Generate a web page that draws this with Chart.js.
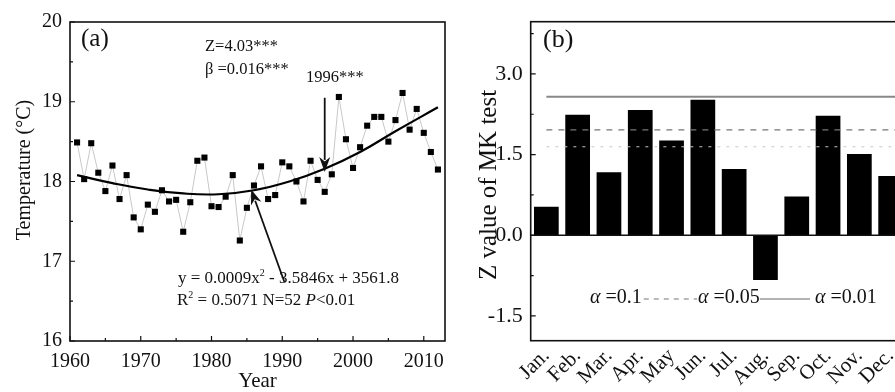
<!DOCTYPE html>
<html><head><meta charset="utf-8">
<script src="https://cdn.jsdelivr.net/npm/chart.js@4.4.1/dist/chart.umd.min.js"></script>
<style>
html,body{margin:0;padding:0;background:#fff;overflow:hidden;width:895px;height:392px;}
#wrap{position:relative;width:895px;height:392px;overflow:hidden;background:#fff;}
#ca{position:absolute;left:0;top:0;}
#cb{position:absolute;left:470px;top:0;}
</style></head><body>
<div id="wrap"><canvas id="ca" width="470" height="392"></canvas><canvas id="cb" width="445" height="392"></canvas></div>
<script>
// ---------- data: panel (a) ----------
const years = [1961,1962,1963,1964,1965,1966,1967,1968,1969,1970,1971,1972,1973,1974,1975,1976,1977,1978,1979,1980,
  1981,1982,1983,1984,1985,1986,1987,1988,1989,1990,1991,1992,1993,1994,1995,1996,1997,1998,1999,2000,
  2001,2002,2003,2004,2005,2006,2007,2008,2009,2010,2011,2012];
const temps = [18.49,18.03,18.48,18.11,17.88,18.20,17.78,18.08,17.55,17.40,17.71,17.62,17.89,17.75,17.77,17.37,17.74,18.26,18.30,17.69,
  17.68,17.81,18.08,17.26,17.67,17.95,18.19,17.78,17.83,18.24,18.19,18.00,17.75,18.26,18.02,17.87,18.09,19.06,18.53,18.17,
  18.43,18.70,18.81,18.81,18.50,18.77,19.11,18.65,18.91,18.61,18.37,18.15];
const fitYears = [1961,1966,1971,1976,1981,1986,1991,1996,2001,2006,2012];
const fitTemps = [18.08,17.98,17.90,17.85,17.84,17.89,18.00,18.16,18.37,18.63,18.93];
const yTicksA = [16,17,18,19,20];
const yMinorA = [16.5,17.5,18.5,19.5];
const xTicksA = [1960,1970,1980,1990,2000,2010];
const xMinorA = [1965,1975,1985,1995,2005];
// ---------- data: panel (b) ----------
const months = ['Jan.','Feb.','Mar.','Apr.','May','Jun.','Jul.','Aug.','Sep.','Oct.','Nov.','Dec.'];
const zValues = [0.53,2.24,1.17,2.33,1.76,2.52,1.23,-0.83,0.72,2.22,1.51,1.10];
const thresholds = [1.645,1.96,2.576];
const yTicksB = [-1.5,0,1.5,3.0];
const yMinorB = [-0.75,0.75,2.25,3.75];

const SERIF = '"Liberation Serif", "Times New Roman", serif';
const INK = '#111';

function rich(ctx, x, y, segs, size){
  ctx.textBaseline = 'middle'; ctx.textAlign = 'left';
  for (const s of segs){
    ctx.font = (s.i ? 'italic ' : '') + (s.s || size) + 'px ' + SERIF;
    ctx.fillText(s.t, x, y + (s.dy||0));
    x += ctx.measureText(s.t).width;
  }
  return x;
}
function arrow(ctx, x1, y1, x2, y2, head, hw){
  const a = Math.atan2(y2-y1, x2-x1);
  ctx.beginPath(); ctx.moveTo(x1,y1);
  ctx.lineTo(x2 - Math.cos(a)*head*0.8, y2 - Math.sin(a)*head*0.8); ctx.stroke();
  ctx.beginPath();
  ctx.moveTo(x2,y2);
  ctx.lineTo(x2 - Math.cos(a)*head + Math.sin(a)*hw, y2 - Math.sin(a)*head - Math.cos(a)*hw);
  ctx.lineTo(x2 - Math.cos(a)*head*0.7, y2 - Math.sin(a)*head*0.7);
  ctx.lineTo(x2 - Math.cos(a)*head - Math.sin(a)*hw, y2 - Math.sin(a)*head + Math.cos(a)*hw);
  ctx.closePath(); ctx.fill();
}

const decorA = {
  id:'decorA',
  afterDraw(chart){
    const {ctx, chartArea:ca, scales:{x, y}} = chart;
    ctx.save();
    ctx.strokeStyle = INK; ctx.fillStyle = INK; ctx.lineWidth = 1.6;
    ctx.strokeRect(ca.left, ca.top, ca.right-ca.left, ca.bottom-ca.top);
    ctx.lineWidth = 1.2;
    ctx.beginPath();
    for (const v of yTicksA){ const p=y.getPixelForValue(v); ctx.moveTo(ca.left,p); ctx.lineTo(ca.left+5,p); }
    for (const v of yMinorA){ const p=y.getPixelForValue(v); ctx.moveTo(ca.left,p); ctx.lineTo(ca.left+3,p); }
    for (const v of xTicksA){ const p=x.getPixelForValue(v); ctx.moveTo(p,ca.bottom); ctx.lineTo(p,ca.bottom-5); }
    for (const v of xMinorA){ const p=x.getPixelForValue(v); ctx.moveTo(p,ca.bottom); ctx.lineTo(p,ca.bottom-3); }
    ctx.stroke();
    // titles
    ctx.textAlign='center'; ctx.textBaseline='middle';
    ctx.font = '21px ' + SERIF;
    ctx.fillText('Year', (ca.left+ca.right)/2, 381);
    ctx.save(); ctx.translate(25,170); ctx.rotate(-Math.PI/2);
    ctx.font = '20px ' + SERIF; ctx.fillText('Temperature (°C)', 0, 0); ctx.restore();
    // labels
    rich(ctx, 81, 39, [{t:'(a)'}], 25);
    rich(ctx, 205, 47, [{t:'Z=4.03***'}], 16.5);
    rich(ctx, 205, 70, [{t:'β =0.016***'}], 16.5);
    rich(ctx, 306, 78, [{t:'1996***'}], 16.5);
    rich(ctx, 178, 279, [{t:'y = 0.0009x'},{t:'2',s:10,dy:-6},{t:' - 3.5846x + 3561.8'}], 17);
    rich(ctx, 177, 301, [{t:'R'},{t:'2',s:10,dy:-6},{t:' = 0.5071 N=52 '},{t:'P',i:true},{t:'<0.01'}], 17);
    // arrows
    ctx.lineWidth = 1.8;
    arrow(ctx, x.getPixelForValue(1996), y.getPixelForValue(19.05), x.getPixelForValue(1996), y.getPixelForValue(18.12), 15, 5.5);
    arrow(ctx, x.getPixelForValue(1990.3), y.getPixelForValue(16.74), x.getPixelForValue(1985.6), y.getPixelForValue(17.9), 15, 5.5);
    ctx.restore();
  }
};

new Chart(document.getElementById('ca'), {
  type:'scatter',
  data:{datasets:[
    {data: years.map((v,i)=>({x:v,y:temps[i]})), showLine:false, pointStyle:'rect', pointRadius:4.3,
     pointBackgroundColor:'#000', pointBorderWidth:0, order:0},
    {data: fitYears.map((v,i)=>({x:v,y:fitTemps[i]})), showLine:true, borderColor:'#000', borderWidth:2.2,
     pointRadius:0, tension:0.45, order:1},
    {data: years.map((v,i)=>({x:v,y:temps[i]})), showLine:true, borderColor:'#c8c8c8', borderWidth:1,
     pointRadius:0, order:2}
  ]},
  options:{
    responsive:false, animation:false, devicePixelRatio:1,
    layout:{padding:{top:22,right:25,left:0,bottom:0}},
    plugins:{legend:{display:false}, tooltip:{enabled:false}},
    scales:{
      x:{type:'linear', min:1960, max:2013,
        grid:{display:false, drawTicks:false}, border:{display:false},
        afterBuildTicks:s=>{ s.ticks = xTicksA.map(v=>({value:v})); },
        afterFit:s=>{ s.height = 51; },
        ticks:{padding:9, color:INK, maxRotation:0, autoSkip:false, font:{family:SERIF,size:20}, callback:v=>String(v)}},
      y:{min:16, max:20,
        grid:{display:false, drawTicks:false}, border:{display:false},
        afterBuildTicks:s=>{ s.ticks = yTicksA.map(v=>({value:v})); },
        afterFit:s=>{ s.width = 70; },
        ticks:{padding:8, color:INK, font:{family:SERIF,size:20}, callback:v=>String(v)}}
    }
  },
  plugins:[decorA]
});

// ---------- panel (b) ----------
const lineStyles = [
  {color:'#c8c8c8', width:1, dash:[3,6]},
  {color:'#777', width:1.4, dash:[6,6]},
  {color:'#888', width:2, dash:[]}
];
const decorB = {
  id:'decorB',
  afterDatasetsDraw(chart){
    const {ctx, chartArea:ca, scales:{x, y}} = chart;
    ctx.save();
    const x0 = x.getPixelForValue(0);
    thresholds.forEach((t,i)=>{
      const st = lineStyles[i]; const p = y.getPixelForValue(t);
      ctx.strokeStyle = st.color; ctx.lineWidth = st.width; ctx.setLineDash(st.dash);
      ctx.beginPath(); ctx.moveTo(x0,p); ctx.lineTo(ca.right,p); ctx.stroke();
    });
    ctx.setLineDash([]);
    ctx.strokeStyle = INK; ctx.lineWidth = 1.5;
    const z = y.getPixelForValue(0);
    ctx.beginPath(); ctx.moveTo(ca.left,z); ctx.lineTo(ca.right,z); ctx.stroke();
    ctx.restore();
  },
  afterDraw(chart){
    const {ctx, chartArea:ca, scales:{x, y}} = chart;
    ctx.save();
    ctx.strokeStyle = INK; ctx.fillStyle = INK; ctx.lineWidth = 1.6;
    ctx.strokeRect(ca.left, ca.top, ca.right-ca.left, ca.bottom-ca.top);
    ctx.lineWidth = 1.2;
    ctx.beginPath();
    for (const v of yTicksB){ const p=y.getPixelForValue(v); ctx.moveTo(ca.left,p); ctx.lineTo(ca.left+5,p); }
    for (const v of yMinorB){ const p=y.getPixelForValue(v); ctx.moveTo(ca.left,p); ctx.lineTo(ca.left+3,p); }
    ctx.stroke();
    ctx.textAlign='center'; ctx.textBaseline='middle';
    ctx.save(); ctx.translate(19,185); ctx.rotate(-Math.PI/2);
    ctx.font = '25px ' + SERIF; ctx.fillText('Z value of MK test', 0, 0); ctx.restore();
    rich(ctx, 73, 40, [{t:'(b)'}], 26);
    // legend
    const ly = 298;
    let xx = rich(ctx, 120, ly, [{t:'α',i:true},{t:' =0.1'}], 20);
    ctx.strokeStyle = '#777'; ctx.lineWidth = 1.2; ctx.setLineDash([5,5]);
    ctx.beginPath(); ctx.moveTo(xx+2, ly+1); ctx.lineTo(227, ly+1); ctx.stroke();
    ctx.setLineDash([]);
    xx = rich(ctx, 228, ly, [{t:'α',i:true},{t:' =0.05'}], 20);
    ctx.strokeStyle = '#666'; ctx.lineWidth = 1.2;
    ctx.beginPath(); ctx.moveTo(xx, ly+1); ctx.lineTo(340, ly+1); ctx.stroke();
    rich(ctx, 345, ly, [{t:'α',i:true},{t:' =0.01'}], 20);
    ctx.restore();
  }
};

new Chart(document.getElementById('cb'), {
  type:'bar',
  data:{labels:months, datasets:[{data:zValues, backgroundColor:'#000', borderWidth:0,
    categoryPercentage:1, barPercentage:0.79}]},
  options:{
    responsive:false, animation:false, devicePixelRatio:1,
    layout:{padding:{top:21.7,right:8.7,left:0,bottom:0}},
    plugins:{legend:{display:false}, tooltip:{enabled:false}},
    scales:{
      x:{grid:{display:false, drawTicks:false}, border:{display:false},
        afterFit:s=>{ s.height = 51.3; },
        ticks:{padding:3, color:INK, minRotation:45, maxRotation:45, autoSkip:false, font:{family:SERIF,size:21}}},
      y:{min:-1.96, max:3.97,
        grid:{display:false, drawTicks:false}, border:{display:false},
        afterBuildTicks:s=>{ s.ticks = yTicksB.map(v=>({value:v})); },
        afterFit:s=>{ s.width = 60.7; },
        ticks:{padding:8, color:INK, font:{family:SERIF,size:22}, callback:v=>Number(v).toFixed(1)}}
    }
  },
  plugins:[decorB]
});
</script>
</body></html>
